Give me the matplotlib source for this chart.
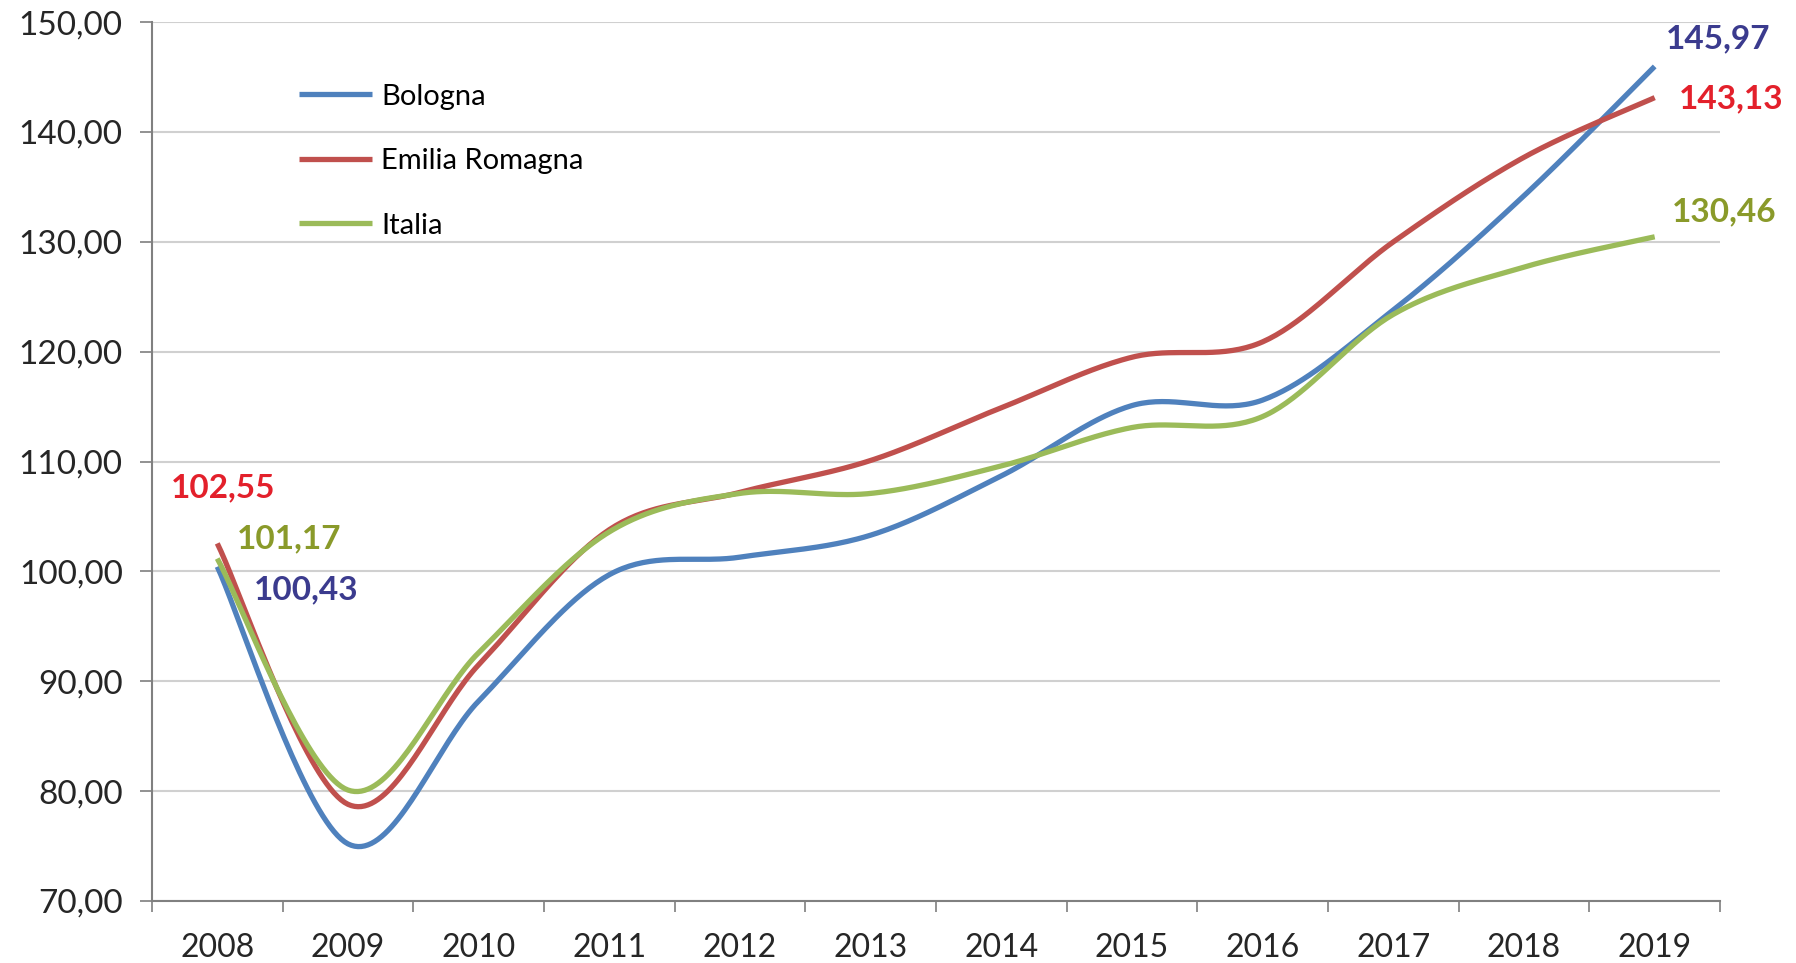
import numpy as np
import matplotlib
matplotlib.use("Agg")
import matplotlib.pyplot as plt

# data
years = ["2008", "2009", "2010", "2011", "2012", "2013",
         "2014", "2015", "2016", "2017", "2018", "2019"]
bologna = [100.43, 75.2, 88.2, 99.7, 101.3, 103.3, 108.7, 115.1, 115.6, 123.8, 134.2, 145.97]
emilia = [102.55, 78.8, 91.5, 103.8, 107.2, 110.1, 114.9, 119.5, 120.9, 130.0, 137.7, 143.13]
italia = [101.17, 80.1, 92.6, 103.6, 107.1, 107.1, 109.6, 113.1, 114.1, 123.4, 127.7, 130.46]
series_names = ["Bologna", "Emilia Romagna", "Italia"]

plt.rcParams['font.family'] = ['Lato', 'DejaVu Sans']


def smooth(xs, ys, n=40):
    # Excel-like smoothed line: cubic bezier through the points
    xs = np.asarray(xs, float)
    ys = np.asarray(ys, float)
    px = np.concatenate([[xs[0]], xs, [xs[-1]]])
    py = np.concatenate([[ys[0]], ys, [ys[-1]]])
    outx, outy = [], []
    t = np.linspace(0, 1, n)
    for i in range(1, len(px) - 2):
        x0, x1, x2, x3 = px[i - 1], px[i], px[i + 1], px[i + 2]
        y0, y1, y2, y3 = py[i - 1], py[i], py[i + 1], py[i + 2]
        c1x, c1y = x1 + (x2 - x0) / 6, y1 + (y2 - y0) / 6
        c2x, c2y = x2 - (x3 - x1) / 6, y2 - (y3 - y1) / 6
        bx = (1-t)**3*x1 + 3*(1-t)**2*t*c1x + 3*(1-t)*t**2*c2x + t**3*x2
        by = (1-t)**3*y1 + 3*(1-t)**2*t*c1y + 3*(1-t)*t**2*c2y + t**3*y2
        outx.extend(bx)
        outy.extend(by)
    return outx, outy


fig = plt.figure(figsize=(17.96, 9.63), dpi=100)
ax = fig.add_axes([0.0846, 0.0644, 0.8731, 0.9126])

x = np.arange(len(years))
colors = ["#4F81BD", "#C0504D", "#9BBB59"]
for vals, name, c in zip([bologna, emilia, italia], series_names, colors):
    sx, sy = smooth(x, vals)
    ax.plot(sx, sy, color=c, lw=3.8, label=name, solid_capstyle='butt', zorder=3)

ax.set_xlim(-0.5, len(years) - 0.5)
ax.set_ylim(70, 150)
ax.set_yticks(np.arange(70, 151, 10))
ax.set_yticklabels([f"{v:.2f}".replace(".", ",") for v in np.arange(70, 151, 10)])
ax.set_xticks(x)
ax.set_xticklabels(years)
ax.set_xticks(np.arange(-0.5, len(years)), minor=True)
ax.tick_params(axis='x', which='major', length=0, pad=23, labelsize=23, colors='#262626')
ax.tick_params(axis='x', which='minor', length=8, width=1.2, color='#7f7f7f')
ax.tick_params(axis='y', length=9, width=1.2, color='#7f7f7f', pad=12, labelsize=24, labelcolor='#262626')

ax.grid(axis='y', color='#d0d0d0', lw=1.5, zorder=0)
ax.set_axisbelow(True)
for s in ['top', 'right']:
    ax.spines[s].set_visible(False)
for s in ['left', 'bottom']:
    ax.spines[s].set_color('#808080')
    ax.spines[s].set_linewidth(1.5)

# value labels at first and last year
lab_col = {"Bologna": "#3b3b8e", "Emilia Romagna": "#e3202b", "Italia": "#8a9a2a"}
first_off = {"Bologna": (64, -17), "Emilia Romagna": (4, 40), "Italia": (52, 14)}
last_off = {"Bologna": (46, 20), "Emilia Romagna": (55, -1), "Italia": (50, 18)}
for vals, name in zip([bologna, emilia, italia], series_names):
    for idx, off in [(0, first_off[name]), (len(years) - 1, last_off[name])]:
        ax.annotate(f"{vals[idx]:.2f}".replace(".", ","), (x[idx], vals[idx]),
                    xytext=off, textcoords='offset points', ha='center', va='center',
                    fontsize=24, fontweight='bold', color=lab_col[name])

leg = ax.legend(loc='upper left', bbox_to_anchor=(0.077, 0.96), frameon=False,
                fontsize=21, handlelength=2.5, handletextpad=0.31, labelspacing=1.32)

fig.savefig("out.png", dpi=100, facecolor='white')
